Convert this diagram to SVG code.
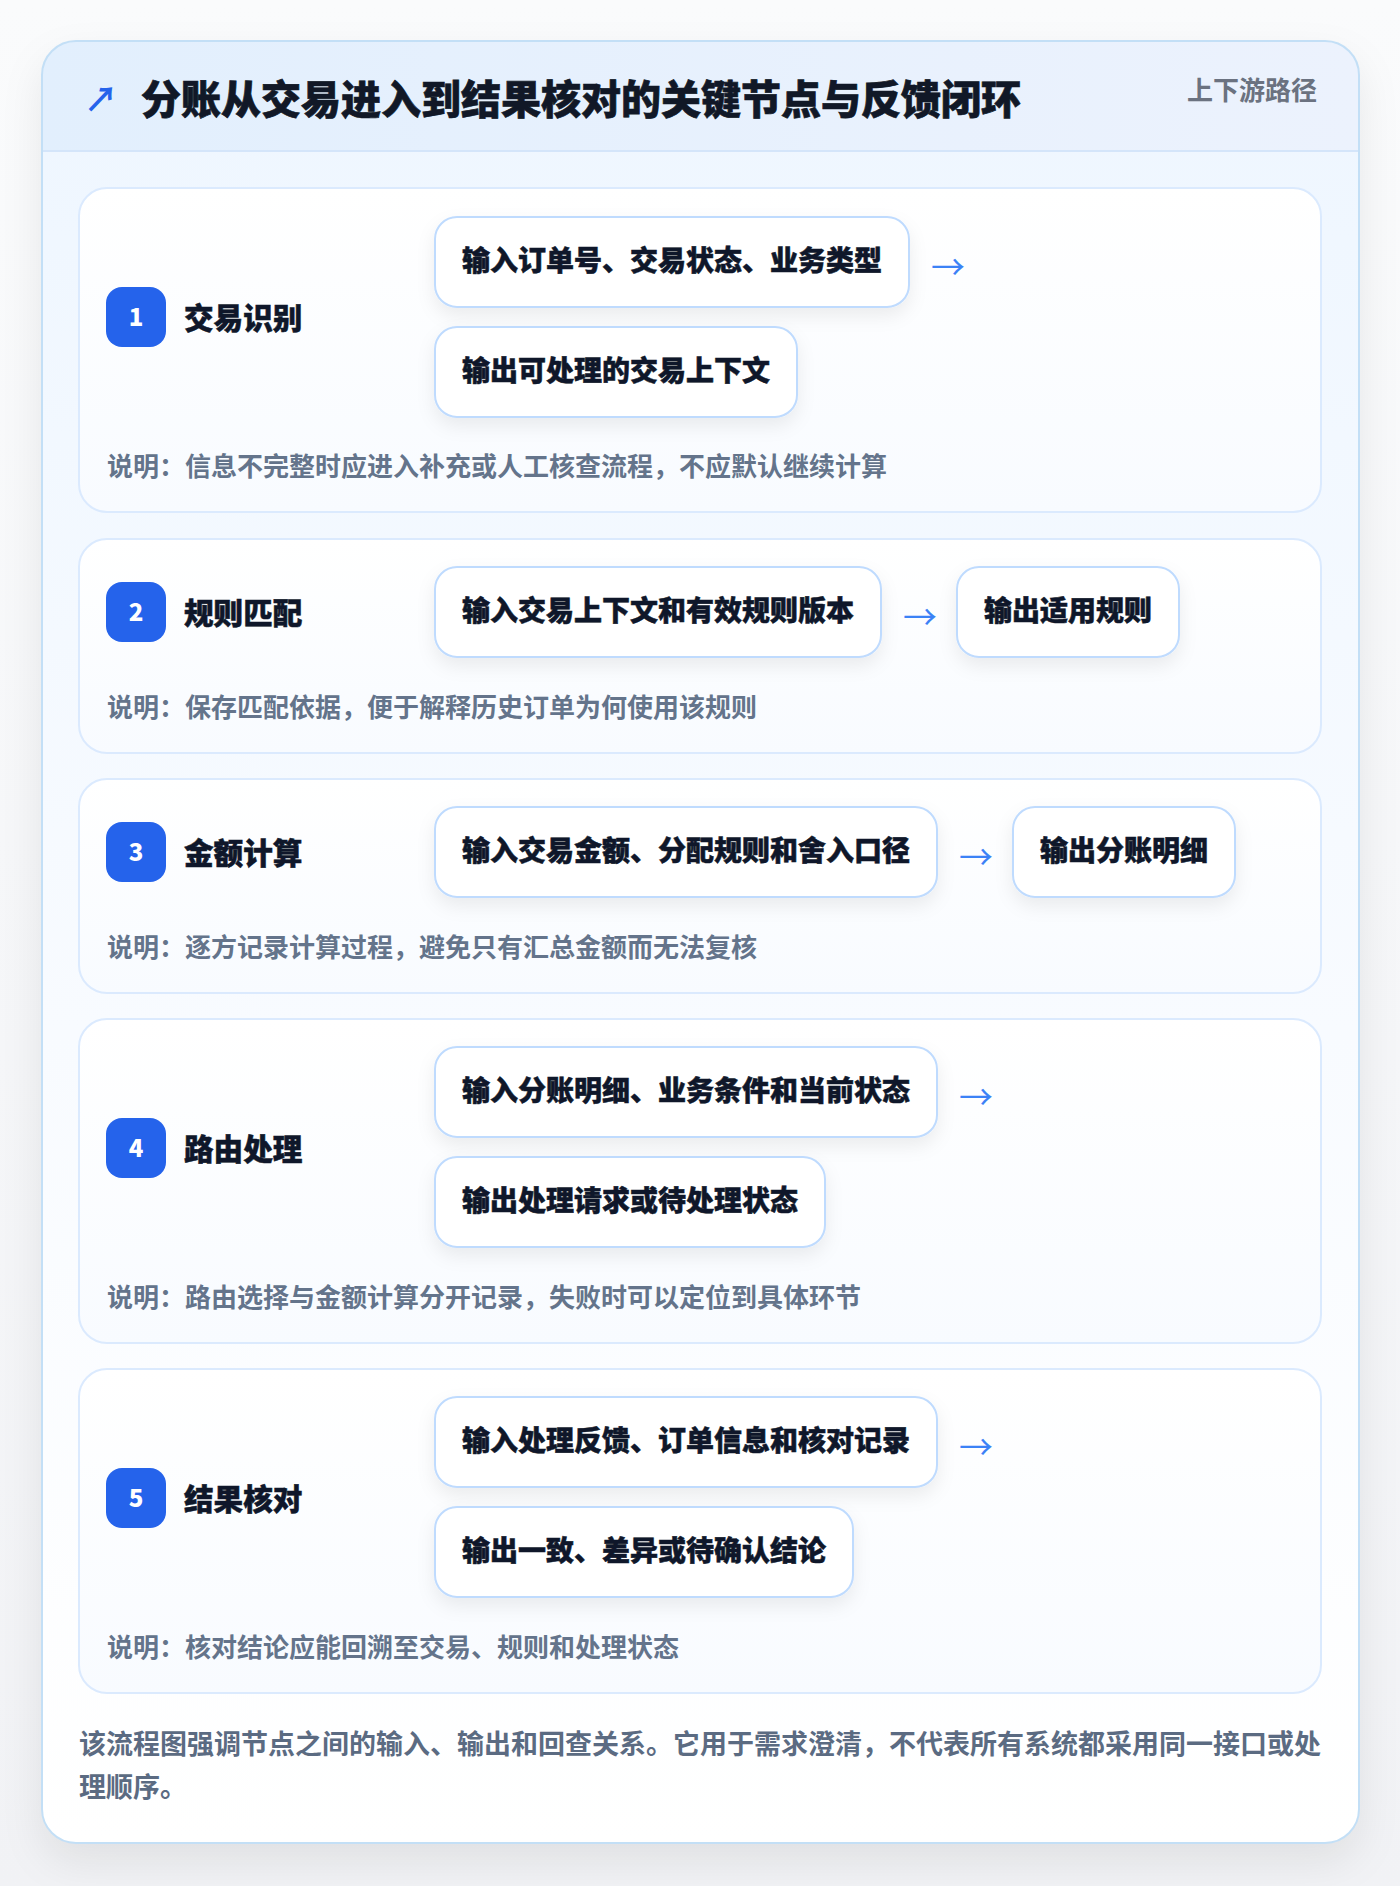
<svg xmlns="http://www.w3.org/2000/svg" width="1400" height="1886" viewBox="0 0 1400 1886">
  <defs>
    <linearGradient id="pageBg" x1="0" y1="0" x2="0" y2="1">
      <stop offset="0" stop-color="#fafbfc"/>
      <stop offset="1" stop-color="#f1f2f5"/>
    </linearGradient>
    <linearGradient id="panelBg" x1="0" y1="0" x2="0" y2="1">
      <stop offset="0" stop-color="#eef6ff"/>
      <stop offset="0.55" stop-color="#f8fbff"/>
      <stop offset="1" stop-color="#ffffff"/>
    </linearGradient>
    <linearGradient id="headBg" x1="0" y1="0" x2="1" y2="0">
      <stop offset="0" stop-color="#e2effd"/>
      <stop offset="1" stop-color="#ecf2fd"/>
    </linearGradient>
    <linearGradient id="cardBg" x1="0" y1="0" x2="0" y2="1">
      <stop offset="0" stop-color="#ffffff"/>
      <stop offset="1" stop-color="#f8fbff"/>
    </linearGradient>
    <clipPath id="panelClip">
      <rect x="42" y="41" width="1317" height="1802" rx="34"/>
    </clipPath>
    <filter id="panelShadow" x="-10%" y="-10%" width="120%" height="120%">
      <feDropShadow dx="0" dy="18" stdDeviation="20" flood-color="#0f172a" flood-opacity="0.08"/>
    </filter>
    <filter id="boxShadow" x="-20%" y="-30%" width="140%" height="180%">
      <feDropShadow dx="0" dy="8" stdDeviation="9" flood-color="#0f172a" flood-opacity="0.07"/>
    </filter>
  </defs>
  <style>
    text { font-family: "Noto Sans CJK SC", "Noto Sans", sans-serif; font-weight: 700; }
    .title { font-size: 40px; fill: #111827; font-weight: 800; stroke: #111827; stroke-width: 0.7px; }
    .tag { font-size: 26px; fill: #6b7280; }
    .card { fill: url(#cardBg); stroke: #dbeafe; stroke-width: 2; }
    .box { fill: #ffffff; stroke: #bfdbfe; stroke-width: 2; }
    .boxText { font-size: 28px; fill: #0f172a; font-weight: 800; stroke: #0f172a; stroke-width: 0.5px; }
    .badge { fill: #2563eb; }
    .badgeNum { font-size: 24px; fill: #ffffff; text-anchor: middle; font-weight: 800; }
    .label { font-size: 29.6px; fill: #0f172a; font-weight: 800; stroke: #0f172a; stroke-width: 0.5px; }
    .note { font-size: 26px; fill: #64748b; }
    .foot { font-size: 27px; fill: #5b6b82; }
    .arrow { font-size: 34px; fill: #3b82f6; font-weight: 400; }
  </style>

  <rect x="0" y="0" width="1400" height="1886" fill="url(#pageBg)"/>

  <g id="panel">
    <rect x="42" y="41" width="1317" height="1802" rx="34" fill="url(#panelBg)" filter="url(#panelShadow)"/>
    <g clip-path="url(#panelClip)">
      <rect x="42" y="41" width="1317" height="110" fill="url(#headBg)"/>
      <line x1="42" y1="151" x2="1359" y2="151" stroke="#d4e5fa" stroke-width="2"/>
    </g>
    <rect x="42" y="41" width="1317" height="1802" rx="34" fill="none" stroke="#c3dff6" stroke-width="2"/>
  </g>

  <g id="header">
    <text x="101" y="112" font-size="34" fill="#2563eb" text-anchor="middle">↗</text>
    <text class="title" x="141" y="114">分账从交易进入到结果核对的关键节点与反馈闭环</text>
    <text class="tag" x="1317" y="100" text-anchor="end">上下游路径</text>
  </g>

  <!-- Step 1 -->
  <g id="step-1">
    <rect class="card" x="79" y="188" width="1242" height="324" rx="28"/>
    <rect class="badge" x="106" y="287" width="60" height="60" rx="16"/>
    <text class="badgeNum" x="136" y="325.5">1</text>
    <text class="label" x="184" y="329">交易识别</text>
    <g id="step-1-input">
      <rect class="box" x="435" y="217" width="474" height="90" rx="22" filter="url(#boxShadow)"/>
      <text class="boxText" x="462" y="271">输入订单号、交易状态、业务类型</text>
    </g>
    <g id="step-1-output">
      <rect class="box" x="435" y="327" width="362" height="90" rx="22" filter="url(#boxShadow)"/>
      <text class="boxText" x="462" y="381">输出可处理的交易上下文</text>
    </g>
    <text class="note" x="107" y="476">说明：信息不完整时应进入补充或人工核查流程，不应默认继续计算</text>
  </g>

  <!-- Step 2 -->
  <g id="step-2">
    <rect class="card" x="79" y="539" width="1242" height="214" rx="28"/>
    <rect class="badge" x="106" y="582" width="60" height="60" rx="16"/>
    <text class="badgeNum" x="136" y="620.5">2</text>
    <text class="label" x="184" y="624">规则匹配</text>
    <g id="step-2-input">
      <rect class="box" x="435" y="567" width="446" height="90" rx="22" filter="url(#boxShadow)"/>
      <text class="boxText" x="462" y="621">输入交易上下文和有效规则版本</text>
    </g>
    <g id="step-2-output">
      <rect class="box" x="957" y="567" width="222" height="90" rx="22" filter="url(#boxShadow)"/>
      <text class="boxText" x="984" y="621">输出适用规则</text>
    </g>
    <text class="note" x="107" y="717">说明：保存匹配依据，便于解释历史订单为何使用该规则</text>
  </g>

  <!-- Step 3 -->
  <g id="step-3">
    <rect class="card" x="79" y="779" width="1242" height="214" rx="28"/>
    <rect class="badge" x="106" y="822" width="60" height="60" rx="16"/>
    <text class="badgeNum" x="136" y="860.5">3</text>
    <text class="label" x="184" y="864">金额计算</text>
    <g id="step-3-input">
      <rect class="box" x="435" y="807" width="502" height="90" rx="22" filter="url(#boxShadow)"/>
      <text class="boxText" x="462" y="861">输入交易金额、分配规则和舍入口径</text>
    </g>
    <g id="step-3-output">
      <rect class="box" x="1013" y="807" width="222" height="90" rx="22" filter="url(#boxShadow)"/>
      <text class="boxText" x="1040" y="861">输出分账明细</text>
    </g>
    <text class="note" x="107" y="957">说明：逐方记录计算过程，避免只有汇总金额而无法复核</text>
  </g>

  <!-- Step 4 -->
  <g id="step-4">
    <rect class="card" x="79" y="1019" width="1242" height="324" rx="28"/>
    <rect class="badge" x="106" y="1118" width="60" height="60" rx="16"/>
    <text class="badgeNum" x="136" y="1156.5">4</text>
    <text class="label" x="184" y="1160">路由处理</text>
    <g id="step-4-input">
      <rect class="box" x="435" y="1047" width="502" height="90" rx="22" filter="url(#boxShadow)"/>
      <text class="boxText" x="462" y="1101">输入分账明细、业务条件和当前状态</text>
    </g>
    <g id="step-4-output">
      <rect class="box" x="435" y="1157" width="390" height="90" rx="22" filter="url(#boxShadow)"/>
      <text class="boxText" x="462" y="1211">输出处理请求或待处理状态</text>
    </g>
    <text class="note" x="107" y="1307">说明：路由选择与金额计算分开记录，失败时可以定位到具体环节</text>
  </g>

  <!-- Step 5 -->
  <g id="step-5">
    <rect class="card" x="79" y="1369" width="1242" height="324" rx="28"/>
    <rect class="badge" x="106" y="1468" width="60" height="60" rx="16"/>
    <text class="badgeNum" x="136" y="1506.5">5</text>
    <text class="label" x="184" y="1510">结果核对</text>
    <g id="step-5-input">
      <rect class="box" x="435" y="1397" width="502" height="90" rx="22" filter="url(#boxShadow)"/>
      <text class="boxText" x="462" y="1451">输入处理反馈、订单信息和核对记录</text>
    </g>
    <g id="step-5-output">
      <rect class="box" x="435" y="1507" width="418" height="90" rx="22" filter="url(#boxShadow)"/>
      <text class="boxText" x="462" y="1561">输出一致、差异或待确认结论</text>
    </g>
    <text class="note" x="107" y="1657">说明：核对结论应能回溯至交易、规则和处理状态</text>
  </g>

  <g id="connectors">
    <text class="arrow" x="931" y="280">→</text>
    <text class="arrow" x="903" y="630">→</text>
    <text class="arrow" x="959" y="870">→</text>
    <text class="arrow" x="959" y="1110">→</text>
    <text class="arrow" x="959" y="1460">→</text>
  </g>

  <g id="footer">
    <text class="foot" x="79" y="1754">该流程图强调节点之间的输入、输出和回查关系。它用于需求澄清，不代表所有系统都采用同一接口或处</text>
    <text class="foot" x="79" y="1796.5">理顺序。</text>
  </g>
</svg>
